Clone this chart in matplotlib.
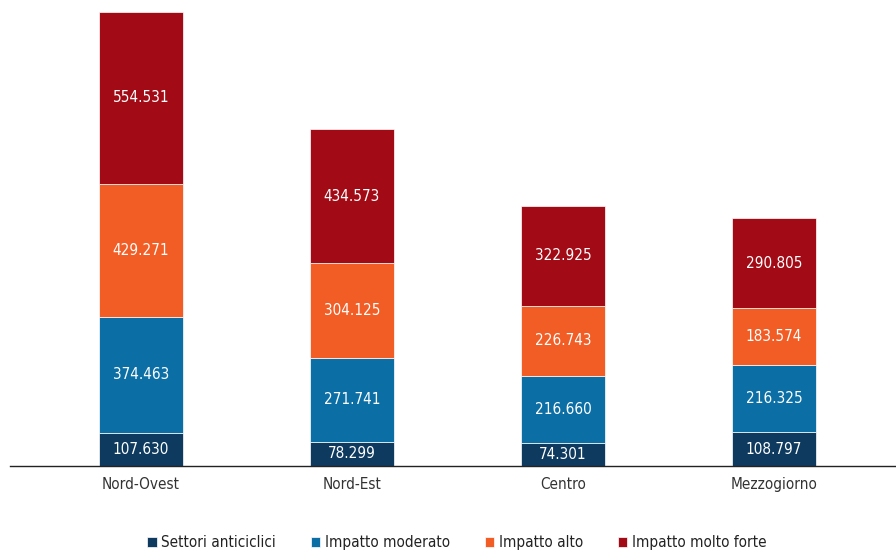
import numpy as np
import matplotlib.pyplot as plt

plt.rcParams['font.family'] = ['DejaVu Sans']
plt.rcParams['font.stretch'] = 'condensed'

regioni = ["Nord-Ovest", "Nord-Est", "Centro", "Mezzogiorno"]
anticiclici = [107630, 78299, 74301, 108797]
moderato = [374463, 271741, 216660, 216325]
alto = [429271, 304125, 226743, 183574]
molto_forte = [554531, 434573, 322925, 290805]

serie = [("Settori anticiclici", anticiclici, "#0d3a5e"),
         ("Impatto moderato", moderato, "#0b6fa6"),
         ("Impatto alto", alto, "#f15d24"),
         ("Impatto molto forte", molto_forte, "#a20a15")]

fig = plt.figure(figsize=(8.96, 5.52), dpi=100)
ax = fig.add_axes([10/896, 86/552, 886/896, 454/552])

x = np.arange(len(regioni))
bottom = np.zeros(len(regioni))
for nome, vals, col in serie:
    vals = np.array(vals, dtype=float)
    ax.bar(x, vals, 0.40, bottom=bottom, color=col, label=nome, edgecolor='white', linewidth=0.5)
    for xi, b, v in zip(x, bottom, vals):
        testo = f"{v/1000:.3f}"
        ax.text(xi, b + v/2, testo, ha='center', va='center', color='white', fontsize=11)
    bottom += vals

ax.set_xlim((10-141)/211, (896-141)/211)
ax.set_ylim(0, bottom.max())
ax.set_yticks([])
ax.set_xticks(x)
ax.set_xticklabels(regioni, fontsize=11, color='#333333')
ax.tick_params(axis='x', length=0, pad=8)
for s in ['top', 'right', 'left']:
    ax.spines[s].set_visible(False)
ax.spines['bottom'].set_color('#222222')
ax.spines['bottom'].set_linewidth(1.0)

leg = fig.legend(loc='lower center', bbox_to_anchor=(0.510, -0.022), ncol=4, frameon=False,
                 fontsize=11, handlelength=0.6, handleheight=0.6, handletextpad=0.3,
                 columnspacing=2.3)
for t in leg.get_texts():
    t.set_color('#222222')

fig.savefig("out.png", dpi=100)
